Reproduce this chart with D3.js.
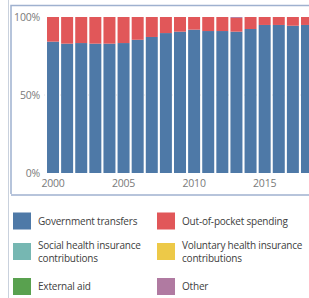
<!DOCTYPE html>
<html>
<head>
<meta charset="utf-8">
<script src="https://cdn.jsdelivr.net/npm/d3@7"></script>
<style>
  body { margin: 0; background: #fff; overflow: hidden; }
  text { font-family: "Open Sans", "Noto Sans", sans-serif; }
</style>
</head>
<body>
<svg id="chart" width="309" height="298"></svg>
<script>
// shares of health spending, %
let years = [2000, 2001, 2002, 2003, 2004, 2005, 2006, 2007, 2008, 2009,
             2010, 2011, 2012, 2013, 2014, 2015, 2016, 2017, 2018, 2019];
let government = [84.2, 82.9, 83.3, 82.9, 82.9, 83.3, 85.4, 87.2, 89.7, 90.6,
                  91.9, 91.0, 91.0, 90.6, 92.3, 94.9, 94.9, 94.4, 94.9, 94.9];
let other = [0, 0, 0, 0, 0, 0, 0, 0, 0, 0,
             0, 0, 0, 0.6, 0, 0, 0, 0, 0, 0];
let outOfPocket = government.map((g, i) => 100 - g - other[i]);
let yTicks = [0, 50, 100];
let xTicks = [2000, 2005, 2010, 2015];

let seriesNames = ["Government transfers", "Out-of-pocket spending",
                   "Social health insurance contributions", "Voluntary health insurance contributions",
                   "External aid", "Other"];
let seriesColors = ["#4e79a7", "#e15759", "#76b7b2", "#edc948", "#59a14f", "#b07aa1"];

let svg = d3.select("#chart");

// frame lines
svg.append("line").attr("x1", 8.5).attr("x2", 8.5).attr("y1", 0).attr("y2", 298)
    .attr("stroke", "#c9d1dd").attr("stroke-width", 1);
svg.append("path")
    .attr("d", "M320,5.5 H11 V194")
    .attr("fill", "none").attr("stroke", "#9fb1cf").attr("stroke-width", 1.5);
svg.append("line").attr("x1", 11).attr("x2", 320).attr("y1", 195).attr("y2", 195)
    .attr("stroke", "#9fb1cf").attr("stroke-width", 1.5);

let step = 14.11, pad = 0.15;
let x = d3.scaleBand()
    .domain(years)
    .range([44.9, 44.9 + step * (years.length + pad)])
    .paddingInner(pad).paddingOuter(pad);
let y = d3.scaleLinear().domain([0, 100]).range([173, 17]);

// faint gridline
svg.append("line").attr("x1", 44).attr("x2", 309)
    .attr("y1", y(50)).attr("y2", y(50))
    .attr("stroke", "#e4e4e4").attr("stroke-dasharray", "1,3");

let rows = years.map((yr, i) => ({ year: yr, gov: government[i], oop: outOfPocket[i], other: other[i] }));
let stack = d3.stack().keys(["gov", "oop", "other"])(rows);
let keyColor = { gov: seriesColors[0], oop: seriesColors[1], other: seriesColors[5] };

stack.forEach(layer => {
    svg.append("g").attr("fill", keyColor[layer.key])
        .selectAll("rect")
        .data(layer)
        .join("rect")
        .attr("x", d => x(d.data.year))
        .attr("width", x.bandwidth())
        .attr("y", d => y(d[1]))
        .attr("height", d => y(d[0]) - y(d[1]));
});

// y labels
svg.append("g").selectAll("text")
    .data(yTicks)
    .join("text")
    .attr("x", 40)
    .attr("y", d => y(d))
    .attr("dy", "0.35em")
    .attr("text-anchor", "end")
    .attr("font-size", 10.5)
    .attr("letter-spacing", -0.2)
    .attr("fill", "#7a7a7a")
    .text(d => d + "%");

// x labels
svg.append("g").selectAll("text")
    .data(xTicks)
    .join("text")
    .attr("x", d => x(d) + x.bandwidth() / 2)
    .attr("y", 187)
    .attr("text-anchor", "middle")
    .attr("font-size", 10.5)
    .attr("letter-spacing", -0.2)
    .attr("fill", "#7a7a7a")
    .text(d => d);

// legend, two columns
let legendItems = [
    { name: ["Government transfers"], color: seriesColors[0], col: 0, row: 0 },
    { name: ["Out-of-pocket spending"], color: seriesColors[1], col: 1, row: 0 },
    { name: ["Social health insurance", "contributions"], color: seriesColors[2], col: 0, row: 1 },
    { name: ["Voluntary health insurance", "contributions"], color: seriesColors[3], col: 1, row: 1 },
    { name: ["External aid"], color: seriesColors[4], col: 0, row: 2 },
    { name: ["Other"], color: seriesColors[5], col: 1, row: 2 }
];
let colX = [13, 157], rowY = [221, 251.5, 286.5];

let lg = svg.append("g").selectAll("g")
    .data(legendItems)
    .join("g")
    .attr("transform", d => `translate(${colX[d.col]},${rowY[d.row]})`);
lg.append("rect")
    .attr("x", 0).attr("y", -8.5)
    .attr("width", 18).attr("height", 17)
    .attr("fill", d => d.color);
lg.append("text")
    .attr("font-size", 10)
    .attr("letter-spacing", -0.2)
    .attr("fill", "#404040")
    .each(function(d) {
        let t = d3.select(this);
        let off = d.name.length == 1 ? 0 : -6.5;
        d.name.forEach((s, i) => {
            t.append("tspan").attr("x", 25).attr("y", off + i * 13).attr("dy", "0.35em").text(s);
        });
    });
</script>
</body>
</html>
